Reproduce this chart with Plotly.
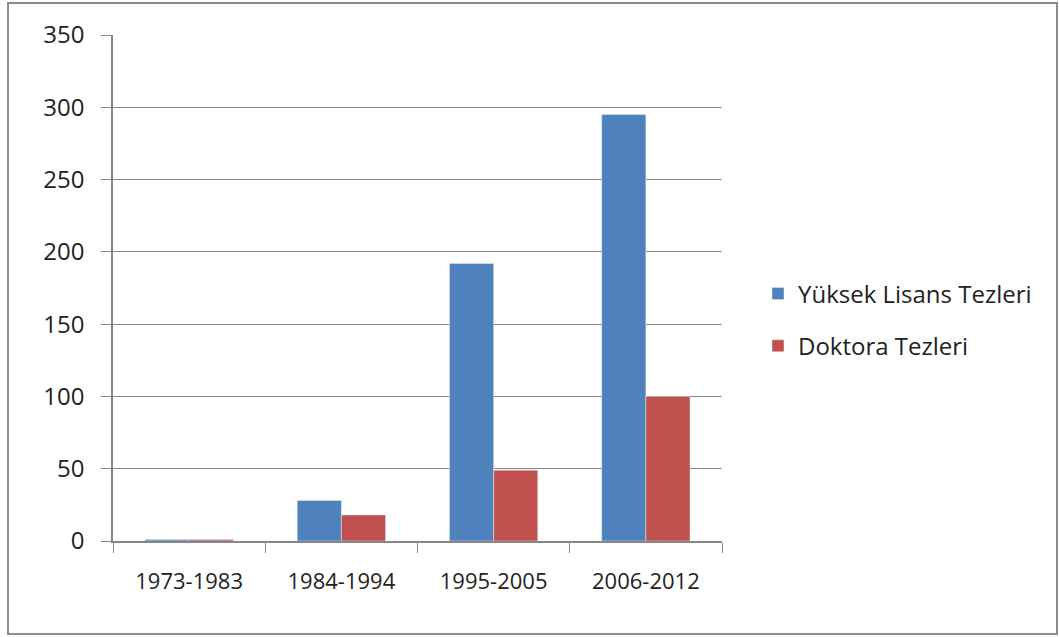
import plotly.graph_objects as go

categories = ["1973-1983", "1984-1994", "1995-2005", "2006-2012"]
yuksek_lisans = [1, 28, 192, 295]
doktora = [1, 18, 49, 100]
series_names = ["Yüksek Lisans Tezleri", "Doktora Tezleri"]
y_ticks = [0, 50, 100, 150, 200, 250, 300, 350]

W, H = 1059, 637
L, R, T, B = 113, 722, 35, 541
pw, ph = R - L, B - T

fig = go.Figure()
fig.add_trace(go.Bar(x=categories, y=yuksek_lisans, name=series_names[0],
                     marker_color="#4F81BD", legendgroup="a"))
fig.add_trace(go.Bar(x=categories, y=doktora, name=series_names[1],
                     marker_color="#C0504D", legendgroup="b"))

def px2x(p):
    return (p - L) / pw

def py2y(p):
    return (B - p) / ph

fig.add_shape(type="rect", xref="paper", yref="paper",
              x0=px2x(8), x1=px2x(1057), y0=py2y(634), y1=py2y(3),
              line=dict(color="#8c8c8c", width=2), fillcolor="rgba(0,0,0,0)",
              layer="below")

font_family = "Open Sans"
fig.update_layout(
    width=W, height=H,
    margin=dict(l=L, r=W - R, t=T, b=H - B, pad=0),
    paper_bgcolor="white", plot_bgcolor="white",
    barmode="group", bargap=0.42, bargroupgap=0,
    font=dict(family=font_family, color="#222222"),
    showlegend=True,
    legend=dict(x=px2x(758), y=py2y(320), xanchor="left", yanchor="middle",
                font=dict(size=24, family=font_family, color="#222222"),
                tracegroupgap=18, traceorder="grouped",
                bgcolor="rgba(0,0,0,0)", itemwidth=30),
    xaxis=dict(showline=True, linecolor="#868686", linewidth=1.5,
               ticks="outside", tickson="boundaries", ticklen=10,
               tickcolor="#868686", tickfont=dict(size=22),
               showgrid=False, ticklabelstandoff=20),
    yaxis=dict(range=[0, 350], tickvals=y_ticks, showline=True,
               linecolor="#868686", linewidth=1.5, ticks="outside",
               ticklen=10, tickcolor="#868686", tickfont=dict(size=24),
               showgrid=True, gridcolor="#868686", gridwidth=1,
               zeroline=False, ticklabelstandoff=12),
)

fig.write_html("out.html")
